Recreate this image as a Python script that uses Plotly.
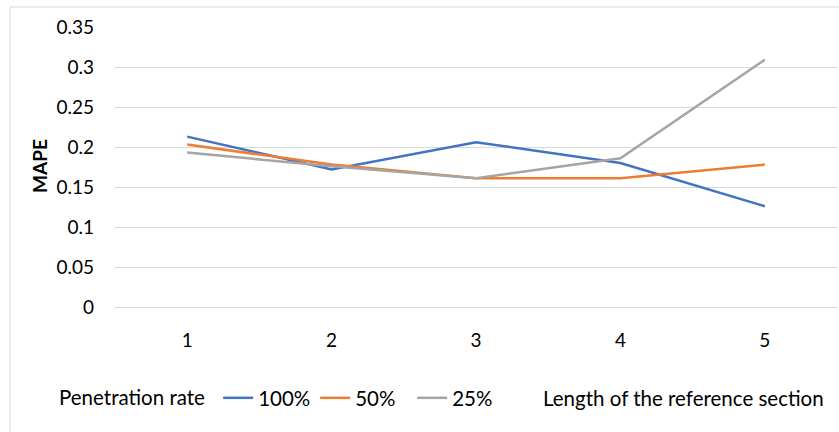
import plotly.graph_objects as go

categories = ["1", "2", "3", "4", "5"]
rate_100 = [0.213, 0.172, 0.206, 0.180, 0.126]
rate_50 = [0.203, 0.178, 0.161, 0.161, 0.178]
rate_25 = [0.193, 0.176, 0.161, 0.186, 0.309]
series_names = ["100%", "50%", "25%"]
colors = ["#4472C4", "#ED7D31", "#A5A5A5"]

FONT = "Lato, Liberation Sans, sans-serif"

fig = go.Figure()
for name, vals, c in zip(series_names, [rate_100, rate_50, rate_25], colors):
    fig.add_trace(go.Scatter(x=categories, y=vals, mode="lines", name=name,
                             line=dict(color=c, width=2.5)))

L, R, T, B = 115, 2, 27, 125
W, H = 839, 432
pw = W - L - R
ph = H - T - B

def px_x(p):
    return (p - L) / pw

def px_y(p):
    return (H - B - p) / ph

fig.update_layout(
    width=W, height=H,
    margin=dict(l=L, r=R, t=T, b=B),
    paper_bgcolor="white", plot_bgcolor="white",
    font=dict(family=FONT, size=19, color="#000000"),
    showlegend=True,
    legend=dict(orientation="h", x=px_x(57), y=px_y(398), xanchor="left", yanchor="middle",
                title=dict(text="Penetration rate ", side="left", font=dict(size=20.5)),
                font=dict(size=20.5), itemwidth=30, tracegroupgap=0,
                entrywidth=52, entrywidthmode="pixels"),
    xaxis=dict(type="category", range=[-0.5, 4.5], showgrid=False, zeroline=False, showline=False,
               ticks="", ticklabelstandoff=20, tickfont=dict(size=19)),
    yaxis=dict(range=[0, 0.35], dtick=0.05, tick0=0, showgrid=True, gridcolor="#D9D9D9",
               gridwidth=1, zeroline=True, zerolinecolor="#D9D9D9", zerolinewidth=1,
               showline=False, ticks="", ticklabelstandoff=20, tickfont=dict(size=19)),
    annotations=[
        dict(text="<b>MAPE</b>", x=px_x(39), y=px_y(166), xref="paper", yref="paper",
             textangle=-90, showarrow=False, font=dict(size=19), xanchor="center", yanchor="middle"),
        dict(text="Length of the reference section", x=px_x(826), y=px_y(398), xref="paper", yref="paper",
             showarrow=False, xanchor="right", yanchor="middle", font=dict(size=20.5)),
    ],
    shapes=[
        dict(type="line", xref="paper", yref="paper", x0=px_x(10), x1=px_x(10),
             y0=px_y(7), y1=px_y(440), line=dict(color="#D9D9D9", width=1)),
        dict(type="line", xref="paper", yref="paper", x0=px_x(10), x1=px_x(845),
             y0=px_y(7), y1=px_y(7), line=dict(color="#D9D9D9", width=1)),
    ],
)

fig.write_html("out.html")
